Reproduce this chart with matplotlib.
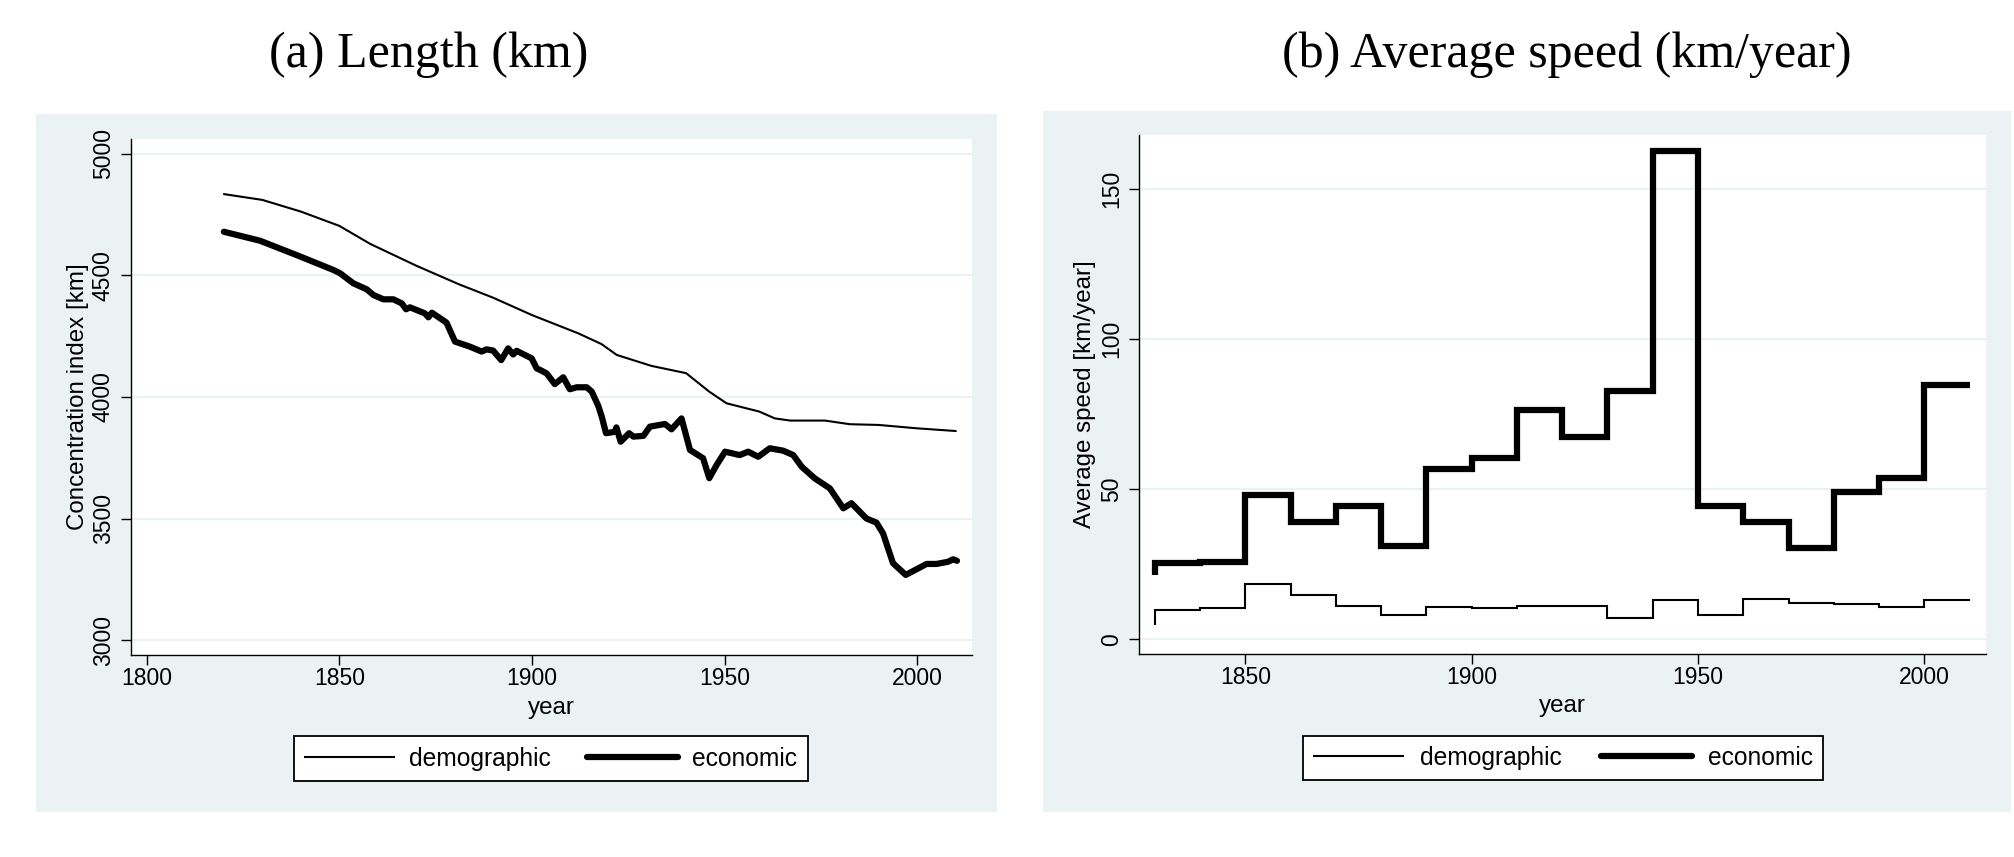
import matplotlib
matplotlib.use("Agg")
import matplotlib.pyplot as plt
from matplotlib.patches import Rectangle
from matplotlib.lines import Line2D

# ---------------- data ----------------
demo_len_years = [1820, 1830, 1840, 1850, 1858, 1870, 1881, 1890, 1900, 1912, 1918, 1922,
                  1931, 1940, 1946, 1950.5, 1959, 1963, 1967, 1976, 1982.5, 1990, 2000, 2010]
demo_len_vals = [4835, 4811, 4763, 4704, 4630, 4540, 4464, 4408, 4337, 4262, 4218, 4173,
                 4128, 4098, 4022, 3974, 3940, 3912, 3903, 3903, 3888, 3885, 3871, 3860]

econ_len_years = [1820, 1829.4, 1838.9, 1848.4, 1850.2, 1853.6, 1857.1, 1858.8, 1861.4, 1864,
                  1866.2, 1867.3, 1868.3, 1872.2, 1873.1, 1874, 1877.8, 1880, 1883.9, 1886.9,
                  1888.2, 1889.9, 1892, 1893.8, 1895.1, 1896, 1899.9, 1901.2, 1902.5, 1903.8,
                  1905.9, 1908.1, 1909.8, 1911.6, 1914.2, 1915.5, 1917.2, 1918.1, 1919.2, 1921.5,
                  1921.9, 1923, 1925.2, 1926.3, 1928.9, 1930.6, 1934.5, 1936.2, 1938.8, 1941,
                  1944.4, 1946, 1947.9, 1950.1, 1953.9, 1956.1, 1958.7, 1961.7, 1965.2, 1967.8,
                  1970, 1973.4, 1977.3, 1980.8, 1982.9, 1986.8, 1989.4, 1991.1, 1993.7, 1997,
                  1999.8, 2002.4, 2005, 2008, 2009.3, 2010.3]
econ_len_vals = [4680, 4643, 4584, 4523, 4509, 4468, 4443, 4420, 4402, 4402,
                 4385, 4361, 4369, 4344, 4328, 4347, 4306, 4228, 4207, 4187,
                 4196, 4191, 4152, 4200, 4175, 4190, 4159, 4118, 4108, 4097,
                 4053, 4081, 4032, 4040, 4040, 4022, 3963, 3919, 3851, 3857,
                 3875, 3816, 3851, 3837, 3840, 3878, 3889, 3867, 3912, 3782,
                 3748, 3666, 3720, 3775, 3761, 3775, 3754, 3789, 3779, 3761,
                 3713, 3665, 3624, 3542, 3563, 3500, 3483, 3439, 3316, 3268,
                 3291, 3313, 3313, 3322, 3332, 3326]

# decades for average speed (value holds from year to year+10)
speed_years = [1830, 1840, 1850, 1860, 1870, 1880, 1890, 1900, 1910, 1920,
               1930, 1940, 1950, 1960, 1970, 1980, 1990, 2000, 2010]
demo_speed_start = 4.7
demo_speed = [9.6, 10.4, 18.5, 14.8, 11.0, 8.0, 10.7, 10.3, 11.0, 11.0,
              7.2, 13.2, 8.0, 13.3, 12.2, 11.9, 10.6, 13.2]
econ_speed_start = 21.5
econ_speed = [25.3, 25.7, 47.9, 39.0, 44.5, 31.1, 56.8, 60.5, 76.2, 67.3,
              82.8, 162.7, 44.5, 39.0, 30.3, 49.1, 53.6, 84.6]

left_title = "(a) Length (km)"
right_title = "(b) Average speed (km/year)"

# ---------------- style ----------------
BG = "#EAF2F3"
SANS = ["Liberation Sans", "DejaVu Sans"]
SERIF = ["Liberation Serif", "DejaVu Serif"]
plt.rcParams["font.family"] = SANS

W, H = 2015, 857
fig = plt.figure(figsize=(W / 100, H / 100), dpi=100)
fig.patch.set_facecolor("white")

def fx(px):
    return px / W

def fy(py):
    return 1 - py / H

# grey graph regions
fig.patches.append(Rectangle((fx(36), fy(812)), fx(997) - fx(36), fy(114) - fy(812),
                             transform=fig.transFigure, facecolor=BG, edgecolor="none", zorder=-10))
fig.patches.append(Rectangle((fx(1043), fy(812)), fx(2011) - fx(1043), fy(111) - fy(812),
                             transform=fig.transFigure, facecolor=BG, edgecolor="none", zorder=-10))

axL = fig.add_axes([fx(131), fy(655), fx(972) - fx(131), fy(139) - fy(655)])
axR = fig.add_axes([fx(1139.3), fy(654), fx(1986) - fx(1139.3), fy(135) - fy(654)])
axL.set_zorder(1)
axR.set_zorder(1)

TICK_FS = 16.5
LABEL_FS = 17.4
LEG_FS = 17.7
for ax in (axL, axR):
    ax.set_facecolor("white")
    for s in ("top", "right"):
        ax.spines[s].set_visible(False)
    for s in ("left", "bottom"):
        ax.spines[s].set_color("black")
        ax.spines[s].set_linewidth(1.0)
    ax.tick_params(direction="out", length=7.2, width=1.0, color="black",
                   labelsize=TICK_FS)
    ax.tick_params(axis="y", labelrotation=90, pad=4.5)
    ax.tick_params(axis="x", pad=1.5)
    ax.grid(axis="y", color=BG, linewidth=1.4)
    ax.grid(axis="x", visible=False)
    ax.set_axisbelow(True)

# left panel
axL.plot(demo_len_years, demo_len_vals, color="black", lw=1.5,
         solid_joinstyle="round", solid_capstyle="round", zorder=3)
axL.plot(econ_len_years, econ_len_vals, color="black", lw=4.5,
         solid_joinstyle="round", solid_capstyle="round", zorder=3)
axL.set_xlim(1795.9, 2014.2)
axL.set_ylim(2938.3, 5061.7)
axL.set_xticks([1800, 1850, 1900, 1950, 2000])
axL.set_yticks([3000, 3500, 4000, 4500, 5000])
for lab in axL.get_yticklabels():
    lab.set_va("center")
axL.set_ylabel("Concentration index [km]", fontsize=LABEL_FS)
axL.set_xlabel("year", fontsize=LABEL_FS)
axL.yaxis.label.set_va("center")
axL.xaxis.label.set_va("center")
axL.yaxis.set_label_coords((78 - 131) / (972 - 131), 0.5)
axL.xaxis.set_label_coords(0.5, (655 - 708) / (655 - 139))

# right panel (stairsteps)
xs = [speed_years[0]] + speed_years
yd = [demo_speed_start] + demo_speed + [demo_speed[-1]]
ye = [econ_speed_start] + econ_speed + [econ_speed[-1]]
axR.plot(xs, yd, drawstyle="steps-post", color="black", lw=1.5,
         solid_joinstyle="miter", solid_capstyle="butt", zorder=3)
axR.plot(xs, ye, drawstyle="steps-post", color="black", lw=4.5,
         solid_joinstyle="miter", solid_capstyle="butt", zorder=3)
axR.set_xlim(1826.6, 2013.6)
axR.set_ylim(-4.9, 167.9)
axR.set_xticks([1850, 1900, 1950, 2000])
axR.set_yticks([0, 50, 100, 150])
for lab in axR.get_yticklabels():
    lab.set_va("center")
axR.set_ylabel("Average speed [km/year]", fontsize=LABEL_FS)
axR.set_xlabel("year", fontsize=LABEL_FS)
axR.yaxis.label.set_va("center")
axR.xaxis.label.set_va("center")
axR.yaxis.set_label_coords((1085 - 1139.3) / (1986 - 1139.3), 0.5)
axR.xaxis.set_label_coords(0.5, (654 - 706) / (654 - 135))

# legends
def make_handles():
    return [Line2D([], [], color="black", lw=1.5, solid_capstyle="butt"),
            Line2D([], [], color="black", lw=4.5, solid_capstyle="round")]

legL = axL.legend(make_handles(), ["demographic", "economic"], ncol=2, loc="center",
                  bbox_to_anchor=(fx(550.6), fy(758.8)), bbox_transform=fig.transFigure,
                  fontsize=LEG_FS, frameon=True, fancybox=False, framealpha=1,
                  edgecolor="black", borderpad=0.42, handlelength=3.72,
                  handletextpad=0.565, columnspacing=1.46)
legL.get_frame().set_linewidth(1.3)

legR = axR.legend(make_handles(), ["demographic", "economic"], ncol=2, loc="center",
                  bbox_to_anchor=(fx(1563), fy(758)), bbox_transform=fig.transFigure,
                  fontsize=LEG_FS, frameon=True, fancybox=False, framealpha=1,
                  edgecolor="black", borderpad=0.42, handlelength=3.7,
                  handletextpad=0.65, columnspacing=1.6)
legR.get_frame().set_linewidth(1.3)

# titles
fig.text(fx(429), fy(67), left_title, family=SERIF, fontsize=36, ha="center", va="baseline")
fig.text(fx(1567), fy(67), right_title, family=SERIF, fontsize=36, ha="center", va="baseline")

fig.savefig("out.png", dpi=100, facecolor="white")
